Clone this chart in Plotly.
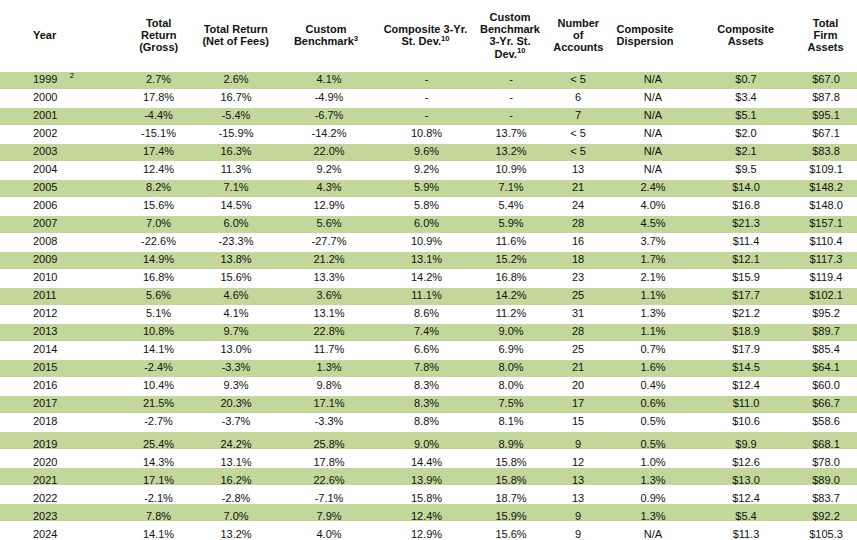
import plotly.graph_objects as go

# ---------------- data ----------------
years = list(range(1999, 2025))
gross = [2.7, 17.8, -4.4, -15.1, 17.4, 12.4, 8.2, 15.6, 7.0, -22.6, 14.9, 16.8, 5.6,
         5.1, 10.8, 14.1, -2.4, 10.4, 21.5, -2.7, 25.4, 14.3, 17.1, -2.1, 7.8, 14.1]
net = [2.6, 16.7, -5.4, -15.9, 16.3, 11.3, 7.1, 14.5, 6.0, -23.3, 13.8, 15.6, 4.6,
       4.1, 9.7, 13.0, -3.3, 9.3, 20.3, -3.7, 24.2, 13.1, 16.2, -2.8, 7.0, 13.2]
bench = [4.1, -4.9, -6.7, -14.2, 22.0, 9.2, 4.3, 12.9, 5.6, -27.7, 21.2, 13.3, 3.6,
         13.1, 22.8, 11.7, 1.3, 9.8, 17.1, -3.3, 25.8, 17.8, 22.6, -7.1, 7.9, 4.0]
comp_sd = [None, None, None, 10.8, 9.6, 9.2, 5.9, 5.8, 6.0, 10.9, 13.1, 14.2, 11.1,
           8.6, 7.4, 6.6, 7.8, 8.3, 8.3, 8.8, 9.0, 14.4, 13.9, 15.8, 12.4, 12.9]
bench_sd = [None, None, None, 13.7, 13.2, 10.9, 7.1, 5.4, 5.9, 11.6, 15.2, 16.8, 14.2,
            11.2, 9.0, 6.9, 8.0, 8.0, 7.5, 8.1, 8.9, 15.8, 15.8, 18.7, 15.9, 15.6]
accounts = ["< 5", 6, 7, "< 5", "< 5", 13, 21, 24, 28, 16, 18, 23, 25,
            31, 28, 25, 21, 20, 17, 15, 9, 12, 13, 13, 9, 9]
dispersion = [None, None, None, None, None, None, 2.4, 4.0, 4.5, 3.7, 1.7, 2.1, 1.1,
              1.3, 1.1, 0.7, 1.6, 0.4, 0.6, 0.5, 0.5, 1.0, 1.3, 0.9, 1.3, None]
comp_assets = [0.7, 3.4, 5.1, 2.0, 2.1, 9.5, 14.0, 16.8, 21.3, 11.4, 12.1, 15.9, 17.7,
               21.2, 18.9, 17.9, 14.5, 12.4, 11.0, 10.6, 9.9, 12.6, 13.0, 12.4, 5.4, 11.3]
firm_assets = [67.0, 87.8, 95.1, 67.1, 83.8, 109.1, 148.2, 148.0, 157.1, 110.4, 117.3,
               119.4, 102.1, 95.2, 89.7, 85.4, 64.1, 60.0, 66.7, 58.6, 68.1, 78.0, 89.0,
               83.7, 92.2, 105.3]
year_note = {1999: "2"}

headers = ["Year", "Total<br>Return<br>(Gross)", "Total Return<br>(Net of Fees)",
           "Custom<br>Benchmark<sup>3</sup>", "Composite 3-Yr.<br>St. Dev.<sup>10</sup>",
           "Custom<br>Benchmark<br>3-Yr. St.<br>Dev.<sup>10</sup>", "Number<br>of<br>Accounts",
           "Composite<br>Dispersion", "Composite<br>Assets", "Total<br>Firm<br>Assets"]

# ---------------- styling / layout ----------------
W, H = 857, 540
GREEN = "#C4D79B"
FONT = "Arial, 'Liberation Sans', sans-serif"
TXT = "#111111"
HEAD_H = 71.7          # header band height (px)
ROW_H = 18.0           # row pitch (px)
BAND = 0.96            # fraction of a row covered by the green band
SPLIT = 20             # the source's text sits a little lower from this row on
SHIFT_A = -0.8         # px text offset for rows before SPLIT
SHIFT_B = 4.8          # px text offset for rows from SPLIT on
HEAD_Y_PX = 36.5       # vertical centre of header block (px from top)
HEAD_LINE = 12.2       # header line pitch (px)

# horizontal placement of column texts (px); year column is left-anchored
body_x = [33, 158.5, 236, 329, 426.5, 511, 578, 653, 746, 826]
head_x = [33, 158.7, 235.7, 326, 425.5, 510, 578.3, 645, 745.7, 825.5]


def pct(v, empty="-"):
    return empty if v is None else f"{v:.1f}%"


year_txt = [f"{y}" + ("\u00a0\u00a0\u00a0\u00a0<sup>%s</sup>" % year_note[y] if y in year_note else "")
            for y in years]
columns = [
    year_txt,
    [pct(v) for v in gross],
    [pct(v) for v in net],
    [pct(v) for v in bench],
    [pct(v) for v in comp_sd],
    [pct(v) for v in bench_sd],
    [str(v) for v in accounts],
    [pct(v, "N/A") for v in dispersion],
    [f"${v:.1f}" for v in comp_assets],
    [f"${v:.1f}" for v in firm_assets],
]
n = len(years)
rows = list(range(n))

top = -0.5 - HEAD_H / ROW_H
bottom = top + H / ROW_H

fig = go.Figure()

# green bands on alternate rows
green_rows = [i for i in rows if i % 2 == 0]
fig.add_trace(go.Bar(
    orientation="h", y=green_rows, x=[W] * len(green_rows), base=0, width=BAND,
    marker=dict(color=GREEN, line=dict(width=0)), hoverinfo="skip", showlegend=False,
))

# body text
text_y = [i + (SHIFT_A if i < SPLIT else SHIFT_B) / ROW_H for i in rows]
for k, (col, xp) in enumerate(zip(columns, body_x)):
    fig.add_trace(go.Scatter(
        x=[xp] * n, y=text_y, text=col, mode="text",
        textposition="middle right" if k == 0 else "middle center",
        textfont=dict(family=FONT, size=11, color=TXT),
        hoverinfo="skip", showlegend=False, cliponaxis=False,
    ))

# header text: one text item per header line, stacked around the header centre
hx, hy, ht, hp = [], [], [], []
for k, (h, xp) in enumerate(zip(headers, head_x)):
    lines = h.split("<br>")
    for j, line in enumerate(lines):
        hx.append(xp)
        hy.append(top + (HEAD_Y_PX + (j - (len(lines) - 1) / 2) * HEAD_LINE) / ROW_H)
        ht.append(f"<b>{line}</b>")
        hp.append("middle right" if k == 0 else "middle center")
fig.add_trace(go.Scatter(
    x=hx, y=hy, text=ht, mode="text", textposition=hp,
    textfont=dict(family=FONT, size=11, color=TXT),
    hoverinfo="skip", showlegend=False, cliponaxis=False,
))

fig.update_layout(
    width=W, height=H, margin=dict(l=0, r=0, t=0, b=0, pad=0),
    paper_bgcolor="white", plot_bgcolor="white", font=dict(family=FONT),
    xaxis=dict(range=[0, W], visible=False, fixedrange=True),
    yaxis=dict(range=[bottom, top], visible=False, fixedrange=True),
    barmode="overlay", bargap=0,
)
fig.write_html("out.html", config={"displayModeBar": False},
               post_script="document.body.style.margin='0';")
